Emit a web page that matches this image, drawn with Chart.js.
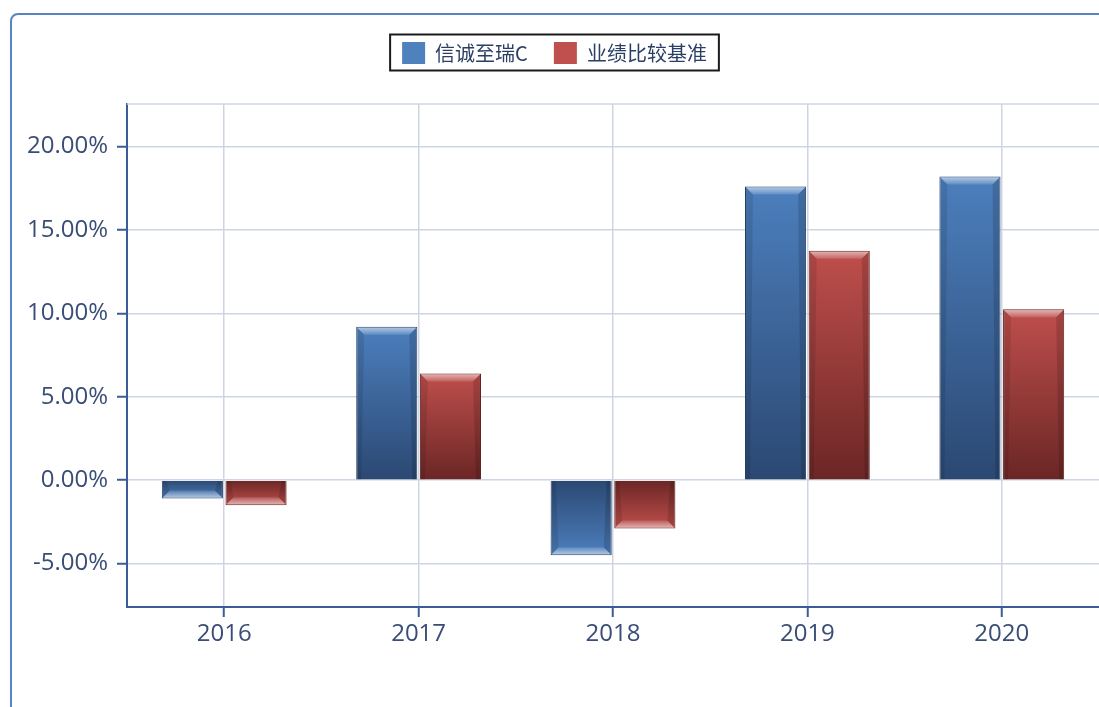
<!DOCTYPE html>
<html>
<head>
<meta charset="utf-8">
<script src="https://cdn.jsdelivr.net/npm/chart.js@4"></script>
<style>
  html, body { margin: 0; padding: 0; background: #fff; overflow: hidden; }
  #frame { position: absolute; left: 10px; top: 13px; width: 1200px; height: 800px;
           border: 2px solid #5a83c6; border-radius: 8px; box-sizing: border-box; }
  #wrap { position: absolute; left: 0; top: 0; width: 1099px; height: 707px; }
</style>
</head>
<body>
<div id="frame"></div>
<div id="wrap"><canvas id="c" width="1099" height="707"></canvas></div>
<script>
const categories = ['2016', '2017', '2018', '2019', '2020'];
const seriesNames = ['信诚至瑞C', '业绩比较基准'];
const fundReturns = [-1.1, 9.2, -4.5, 17.6, 18.2];
const benchmarkReturns = [-1.5, 6.4, -2.9, 13.75, 10.25];
const yMin = -7.6, yMax = 22.55, yStep = 5;

const PAD_TOP = 16, PAD_LEFT = 10, PAD_RIGHT = 0;
const PLOT_LEFT = 127, PLOT_TOP = 104, PLOT_BOTTOM = 607;
const AXIS_COLOR = '#3b5c98';
const GRID_COLOR = '#cdd5e4';
const TEXT_COLOR = '#394d76';
const TICK_FONT = { family: '"Open Sans", "Noto Sans", sans-serif', size: 24 };

function grad(light, dark) {
  return (ctx) => {
    const chart = ctx.chart;
    if (!chart.chartArea || ctx.type !== 'data') return light;
    const ys = chart.scales.y;
    const yv = ys.getPixelForValue(ctx.raw), y0 = ys.getPixelForValue(0);
    if (Math.abs(yv - y0) < 1) return light;
    const g = chart.ctx.createLinearGradient(0, y0, 0, yv);
    g.addColorStop(0, dark);
    g.addColorStop(1, light);
    return g;
  };
}

const bevelPlugin = {
  id: 'bevel',
  afterDatasetsDraw(chart) {
    const c = chart.ctx;
    chart.getSortedVisibleDatasetMetas().forEach(meta => {
      meta.data.forEach(el => {
        const p = el.getProps(['x', 'y', 'base', 'width'], true);
        const l = p.x - p.width / 2 + 1, r = p.x + p.width / 2 - 1;
        const dir = p.y < p.base ? 1 : -1;
        const end = p.y + dir * 1;
        const len = Math.abs(p.base - p.y);
        const b = Math.min(7, len / 2);
        c.save();
        const g = c.createLinearGradient(0, end, 0, end + dir * b);
        g.addColorStop(0, 'rgba(255,255,255,0.55)');
        g.addColorStop(1, 'rgba(255,255,255,0.12)');
        c.fillStyle = g;
        c.beginPath();
        c.moveTo(l, end);
        c.lineTo(r, end);
        c.lineTo(r - b, end + dir * b);
        c.lineTo(l + b, end + dir * b);
        c.closePath();
        c.fill();
        const s = Math.min(4, p.width / 6);
        c.fillStyle = 'rgba(0,0,0,0.10)';
        c.beginPath();
        c.moveTo(l, end); c.lineTo(l + b, end + dir * b); c.lineTo(l + s, p.base); c.lineTo(l, p.base);
        c.closePath(); c.fill();
        c.fillStyle = 'rgba(0,0,0,0.14)';
        c.beginPath();
        c.moveTo(r, end); c.lineTo(r - b, end + dir * b); c.lineTo(r - s, p.base); c.lineTo(r, p.base);
        c.closePath(); c.fill();
        c.restore();
      });
    });
  }
};

const frameLegendPlugin = {
  id: 'frameLegend',
  beforeLayout(chart) {
    const lg = chart.legend;
    if (lg && !lg._wrapped) {
      const f = lg.fit;
      lg.fit = function () { f.call(this); this.height = PLOT_TOP - PAD_TOP; };
      lg._wrapped = true;
    }
  },
  afterDraw(chart) {
    const c = chart.ctx;
    const a = chart.chartArea;
    c.save();
    c.strokeStyle = GRID_COLOR;
    c.lineWidth = 1.5;
    c.beginPath();
    c.moveTo(a.left, a.top); c.lineTo(a.right, a.top);
    c.stroke();
    const hb = chart.legend.legendHitBoxes;
    if (hb && hb.length) {
      const first = hb[0], last = hb[hb.length - 1];
      const x0 = first.left - 12, x1 = last.left + last.width + 12;
      const y0 = first.top - 7.5, y1 = first.top + first.height + 6.5;
      c.strokeStyle = '#1a1a1a';
      c.lineWidth = 2;
      c.strokeRect(x0, y0, x1 - x0, y1 - y0);
    }
    c.restore();
  }
};

new Chart(document.getElementById('c'), {
  type: 'bar',
  data: {
    labels: categories,
    datasets: [
      { label: seriesNames[0], data: fundReturns,
        backgroundColor: grad('#4c7fbd', '#2b4872'), borderColor: '#263f62', borderWidth: 1,
        categoryPercentage: 0.655, barPercentage: 0.96 },
      { label: seriesNames[1], data: benchmarkReturns,
        backgroundColor: grad('#bf4f4c', '#6a2625'), borderColor: '#5e2220', borderWidth: 1,
        categoryPercentage: 0.655, barPercentage: 0.96 }
    ]
  },
  options: {
    responsive: false,
    animation: false,
    devicePixelRatio: 1,
    layout: { padding: { top: PAD_TOP, left: PAD_LEFT, right: PAD_RIGHT, bottom: 0 } },
    plugins: {
      tooltip: { enabled: false },
      legend: {
        position: 'top',
        labels: {
          boxWidth: 23, boxHeight: 22, padding: 26,
          color: '#2b3f66',
          font: { family: '"Noto Sans CJK SC", "Noto Sans", sans-serif', size: 20 },
          generateLabels(chart) {
            const cols = ['#4f81bd', '#c0504d'];
            return chart.data.datasets.map((ds, i) => ({
              text: ds.label, fillStyle: cols[i], strokeStyle: cols[i], lineWidth: 0,
              hidden: false, datasetIndex: i, fontColor: '#2b3f66'
            }));
          }
        }
      }
    },
    scales: {
      x: {
        offset: true,
        grid: { offset: false, color: GRID_COLOR, lineWidth: 1.5, tickColor: AXIS_COLOR, tickLength: 10, tickWidth: 2, drawTicks: true },
        border: { color: AXIS_COLOR, width: 2 },
        ticks: { color: TEXT_COLOR, padding: 3, font: TICK_FONT },
        afterFit(scale) { scale.height = 707 - PLOT_BOTTOM; }
      },
      y: {
        min: yMin, max: yMax,
        grid: { color: GRID_COLOR, lineWidth: 1.5, tickColor: AXIS_COLOR, tickLength: 10, tickWidth: 2 },
        border: { color: AXIS_COLOR, width: 2 },
        ticks: {
          stepSize: yStep, includeBounds: false, color: TEXT_COLOR, padding: 9,
          font: TICK_FONT,
          callback: (v) => v.toFixed(2) + '%'
        },
        afterFit(scale) { scale.width = PLOT_LEFT - PAD_LEFT; }
      }
    }
  },
  plugins: [bevelPlugin, frameLegendPlugin]
});
</script>
</body>
</html>
